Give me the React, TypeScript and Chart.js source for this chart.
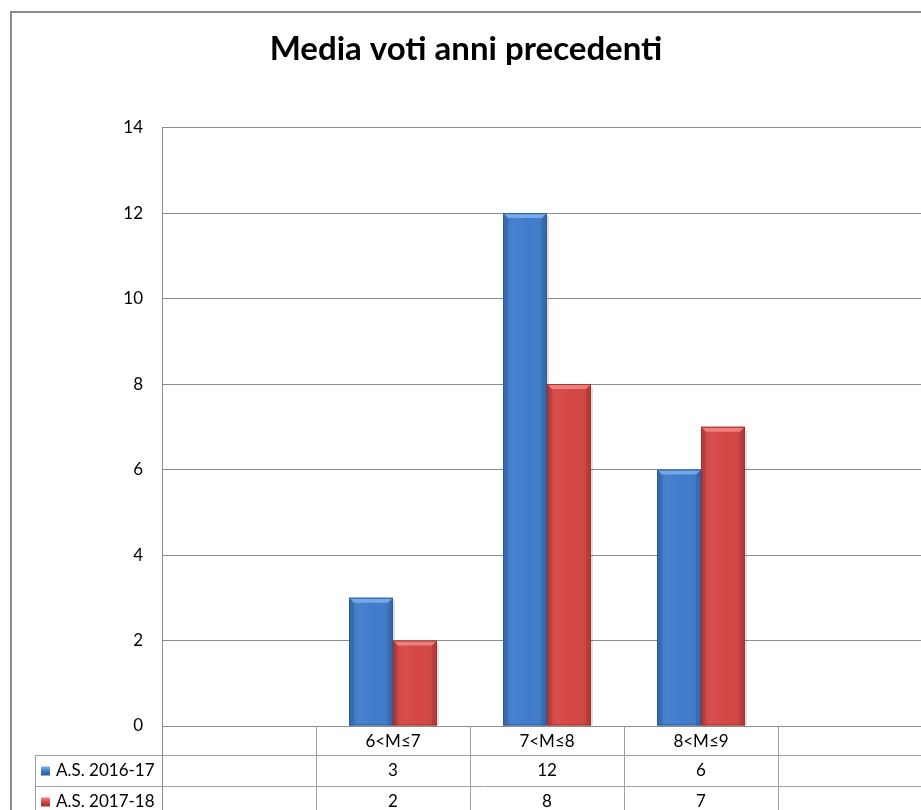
import { useEffect, useRef } from "react";
import { Chart, registerables } from "chart.js";

Chart.register(...registerables);

// ---- data ----
const chartTitle = "Media voti anni precedenti";
const categories = ["", "6<M≤7", "7<M≤8", "8<M≤9", ""];
const seriesNames = ["A.S. 2016-17", "A.S. 2017-18"];
const valuesAS201617: (number | null)[] = [null, 3, 12, 6, null];
const valuesAS201718: (number | null)[] = [null, 2, 8, 7, null];
const yMin = 0;
const yMax = 14;
const yStep = 2;

// ---- styles ----
const FONT = "Lato, 'DejaVu Sans', sans-serif";
const seriesStyle = [
  { base: "#3f7bcb", light: "#7db0f0", dark: "#2a5894", edge: "#2c5b99" },
  { base: "#d44543", light: "#f48886", dark: "#a0302e", edge: "#9d3432" },
];
const GRID = "#8c8c8c";
const TABLE_LINE = "#a0a0a0";

const bevelPlugin = {
  id: "bevelBars",
  afterDatasetsDraw(chart: any) {
    const ctx = chart.ctx as CanvasRenderingContext2D;
    chart.data.datasets.forEach((ds: any, di: number) => {
      const meta = chart.getDatasetMeta(di);
      const st = seriesStyle[di];
      meta.data.forEach((el: any, i: number) => {
        if (ds.data[i] == null) return;
        const p = el.getProps(["x", "y", "base", "width"], true);
        const l = p.x - p.width / 2;
        const r = p.x + p.width / 2;
        const t = Math.min(p.y, p.base);
        const b = Math.max(p.y, p.base);
        const bv = 5;
        ctx.save();
        ctx.fillStyle = "rgba(0,0,0,0.12)";
        ctx.fillRect(r, t + 3, 2, b - t - 3);
        const g = ctx.createLinearGradient(l, 0, r, 0);
        g.addColorStop(0, "rgba(0,0,0,0.10)");
        g.addColorStop(0.25, "rgba(255,255,255,0.05)");
        g.addColorStop(0.6, "rgba(255,255,255,0.0)");
        g.addColorStop(1, "rgba(0,0,0,0.12)");
        ctx.fillStyle = g;
        ctx.fillRect(l, t, r - l, b - t);
        ctx.globalAlpha = 0.35;
        ctx.fillStyle = st.dark;
        ctx.beginPath();
        ctx.moveTo(l, t);
        ctx.lineTo(l + bv, t + bv);
        ctx.lineTo(l + bv, b);
        ctx.lineTo(l, b);
        ctx.closePath();
        ctx.fill();
        ctx.beginPath();
        ctx.moveTo(r, t);
        ctx.lineTo(r - bv, t + bv);
        ctx.lineTo(r - bv, b);
        ctx.lineTo(r, b);
        ctx.closePath();
        ctx.fill();
        ctx.globalAlpha = 0.85;
        ctx.fillStyle = st.light;
        ctx.beginPath();
        ctx.moveTo(l, t);
        ctx.lineTo(r, t);
        ctx.lineTo(r - bv, t + bv);
        ctx.lineTo(l + bv, t + bv);
        ctx.closePath();
        ctx.fill();
        ctx.globalAlpha = 1;
        ctx.strokeStyle = st.edge;
        ctx.lineWidth = 1;
        ctx.strokeRect(l + 0.5, t + 0.5, r - l - 1, b - t - 1);
        ctx.restore();
      });
    });
  },
};

const tablePlugin = {
  id: "dataTable",
  afterDraw(chart: any) {
    const ctx = chart.ctx as CanvasRenderingContext2D;
    const xs = chart.scales.x;
    const area = chart.chartArea;
    const labels = chart.data.labels as string[];
    const n = labels.length;
    const cw = xs.width / n;
    const centers = labels.map((_, i) => xs.getPixelForValue(i));
    const edges = centers.map((c) => c - cw / 2);
    edges.push(centers[n - 1] + cw / 2);
    const labelLeft = 35;
    const rowTops = [area.bottom, area.bottom + 29, area.bottom + 60, area.bottom + 91];
    const px = (v: number) => Math.round(v) + 0.5;

    ctx.save();
    ctx.strokeStyle = TABLE_LINE;
    ctx.lineWidth = 1;
    ctx.beginPath();
    for (let r = 1; r < rowTops.length; r++) {
      ctx.moveTo(labelLeft, px(rowTops[r]));
      ctx.lineTo(edges[n], px(rowTops[r]));
    }
    edges.forEach((e, i) => {
      if (i === 0) return;
      ctx.moveTo(px(e), rowTops[0]);
      ctx.lineTo(px(e), rowTops[3]);
    });
    ctx.moveTo(px(labelLeft), rowTops[1]);
    ctx.lineTo(px(labelLeft), rowTops[3]);
    ctx.stroke();
    ctx.strokeStyle = GRID;
    ctx.beginPath();
    ctx.moveTo(px(edges[0]), rowTops[0]);
    ctx.lineTo(px(edges[0]), rowTops[3]);
    ctx.stroke();

    ctx.fillStyle = "#000";
    ctx.font = `17px ${FONT}`;
    ctx.textAlign = "center";
    ctx.textBaseline = "middle";
    labels.forEach((lab, i) => {
      if (lab) ctx.fillText(lab, centers[i], (rowTops[0] + rowTops[1]) / 2 + 1);
    });
    chart.data.datasets.forEach((ds: any, di: number) => {
      const yMid = (rowTops[di + 1] + rowTops[di + 2]) / 2;
      ds.data.forEach((v: number | null, i: number) => {
        if (v != null) ctx.fillText(String(v), centers[i], yMid);
      });
      const st = seriesStyle[di];
      const g = ctx.createLinearGradient(0, yMid - 4, 0, yMid + 5);
      g.addColorStop(0, st.light);
      g.addColorStop(0.5, st.base);
      g.addColorStop(1, st.dark);
      ctx.fillStyle = g;
      ctx.fillRect(41, yMid - 4, 9, 9);
      ctx.fillStyle = "#000";
      ctx.textAlign = "left";
      ctx.fillText(ds.label, 56, yMid);
      ctx.textAlign = "center";
    });
    ctx.restore();
  },
};

export default function App() {
  const ref = useRef<HTMLCanvasElement | null>(null);

  useEffect(() => {
    if (!ref.current) return;
    const chart = new Chart(ref.current, {
      type: "bar",
      data: {
        labels: categories,
        datasets: [
          {
            label: seriesNames[0],
            data: valuesAS201617,
            backgroundColor: seriesStyle[0].base,
            borderWidth: 0,
            categoryPercentage: 0.571,
            barPercentage: 1,
          },
          {
            label: seriesNames[1],
            data: valuesAS201718,
            backgroundColor: seriesStyle[1].base,
            borderWidth: 0,
            categoryPercentage: 0.571,
            barPercentage: 1,
          },
        ],
      },
      options: {
        responsive: false,
        animation: false,
        layout: { padding: { left: 0, right: 8, top: 0, bottom: 104 } },
        plugins: {
          legend: { display: false },
          tooltip: { enabled: false },
          title: {
            display: true,
            text: chartTitle,
            color: "#000",
            font: { family: FONT, size: 33, weight: "bold" },
            padding: { top: 30, bottom: 58 },
          },
        },
        scales: {
          x: {
            type: "category",
            offset: true,
            grid: { display: false, drawTicks: false },
            border: { display: false },
            ticks: { display: false },
            afterFit: (s: any) => {
              s.height = 0;
            },
          },
          y: {
            min: yMin,
            max: yMax,
            ticks: {
              stepSize: yStep,
              color: "#000",
              font: { family: FONT, size: 17 },
              padding: 19,
            },
            grid: { color: GRID, drawTicks: false },
            border: { display: true, color: GRID },
            afterFit: (s: any) => {
              s.width = 162;
            },
          },
        },
      },
      plugins: [bevelPlugin, tablePlugin],
    });
    return () => chart.destroy();
  }, []);

  return (
    <div
      style={{
        position: "fixed",
        left: 0,
        top: 0,
        width: 921,
        height: 810,
        overflow: "hidden",
        background: "#fff",
      }}
    >
      <div
        style={{
          position: "absolute",
          left: 10,
          top: 11,
          width: 1000,
          height: 1000,
          border: "2px solid #8a8a8a",
        }}
      />
      <canvas
        ref={ref}
        width={940}
        height={830}
        style={{ position: "absolute", left: 0, top: 0 }}
      />
    </div>
  );
}
